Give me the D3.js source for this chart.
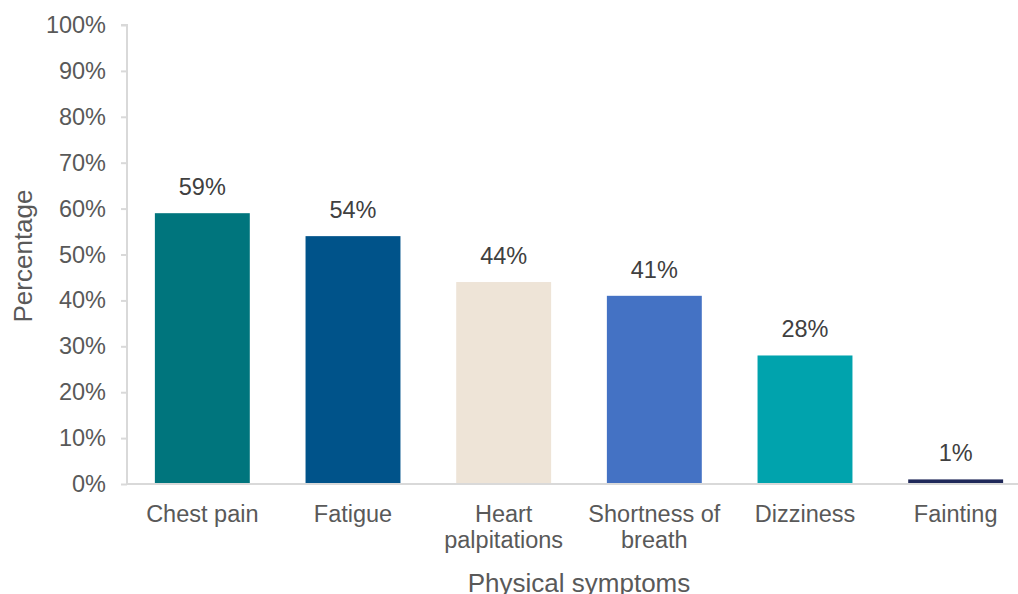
<!DOCTYPE html>
<html>
<head>
<meta charset="utf-8">
<script src="https://cdn.jsdelivr.net/npm/d3@7"></script>
<style>
  html, body { margin: 0; padding: 0; background: #fff; }
  svg { display: block; font-family: "Liberation Sans", Arial, sans-serif; }
</style>
</head>
<body>
<svg id="chart" width="1018" height="594"></svg>
<script>
// Share of respondents reporting each physical symptom
const categories = ["Chest pain", "Fatigue", "Heart palpitations", "Shortness of breath", "Dizziness", "Fainting"];
const categoryLines = [["Chest pain"], ["Fatigue"], ["Heart", "palpitations"], ["Shortness of", "breath"], ["Dizziness"], ["Fainting"]];
const values = [59, 54, 44, 41, 28, 1];
const barColors = ["#00757d", "#00538a", "#eee4d7", "#4472c4", "#00a3ad", "#1f2859"];
const yTicks = [0, 10, 20, 30, 40, 50, 60, 70, 80, 90, 100];

const svg = d3.select("#chart");
const plot = { left: 127, right: 1031, top: 25, bottom: 484 };

const x = d3.scaleBand()
  .domain(categories)
  .range([plot.left, plot.right])
  .paddingInner(0.37)
  .paddingOuter(0.185);

const y = d3.scaleLinear()
  .domain([0, 100])
  .range([plot.bottom, plot.top]);

const axisColor = "#d9d9d9";
const tickText = "#595959";
const labelSize = 23.5;
const titleSize = 26;

// Bars
svg.append("g")
  .selectAll("rect")
  .data(values)
  .join("rect")
  .attr("x", (d, i) => x(categories[i]))
  .attr("y", d => y(d))
  .attr("width", x.bandwidth())
  .attr("height", d => y(0) - y(d))
  .attr("fill", (d, i) => barColors[i]);

// Value labels
svg.append("g")
  .selectAll("text")
  .data(values)
  .join("text")
  .attr("x", (d, i) => x(categories[i]) + x.bandwidth() / 2)
  .attr("y", d => y(d) - 18)
  .attr("text-anchor", "middle")
  .attr("font-size", labelSize)
  .attr("fill", "#404040")
  .text(d => d + "%");

// Y axis
const yAxis = svg.append("g")
  .attr("transform", `translate(${plot.left},0)`)
  .call(d3.axisLeft(y).tickValues(yTicks).tickFormat(d => d + "%").tickSize(6).tickPadding(15));
yAxis.select(".domain").attr("stroke", axisColor).attr("stroke-width", 2)
  .attr("d", `M-6,${plot.top}H0V${plot.bottom}`);
yAxis.selectAll(".tick line").attr("stroke", axisColor).attr("stroke-width", 2);
yAxis.selectAll(".tick text")
  .attr("font-size", labelSize)
  .attr("font-family", "Liberation Sans, Arial, sans-serif")
  .attr("fill", tickText);

// X axis
const xAxis = svg.append("g")
  .attr("transform", `translate(0,${plot.bottom})`)
  .call(d3.axisBottom(x).tickSize(0).tickFormat(""));
xAxis.select(".domain").attr("stroke", axisColor).attr("stroke-width", 2)
  .attr("d", `M${plot.left},0H${plot.right}`);

// Category labels, wrapped onto two lines where needed
const catLabels = svg.append("g")
  .selectAll("text")
  .data(categories)
  .join("text")
  .attr("text-anchor", "middle")
  .attr("font-size", labelSize)
  .attr("fill", tickText);
catLabels.each(function (c, i) {
  const t = d3.select(this);
  categoryLines[i].forEach((line, k) => {
    t.append("tspan")
      .attr("x", x(c) + x.bandwidth() / 2)
      .attr("y", 521.5 + k * 26.5)
      .text(line);
  });
});

// Axis titles
svg.append("text")
  .attr("x", (plot.left + plot.right) / 2)
  .attr("y", 591.5)
  .attr("text-anchor", "middle")
  .attr("font-size", titleSize)
  .attr("fill", tickText)
  .text("Physical symptoms");

svg.append("text")
  .attr("transform", `translate(32,256) rotate(-90)`)
  .attr("text-anchor", "middle")
  .attr("font-size", titleSize)
  .attr("fill", tickText)
  .text("Percentage");
</script>
</body>
</html>
